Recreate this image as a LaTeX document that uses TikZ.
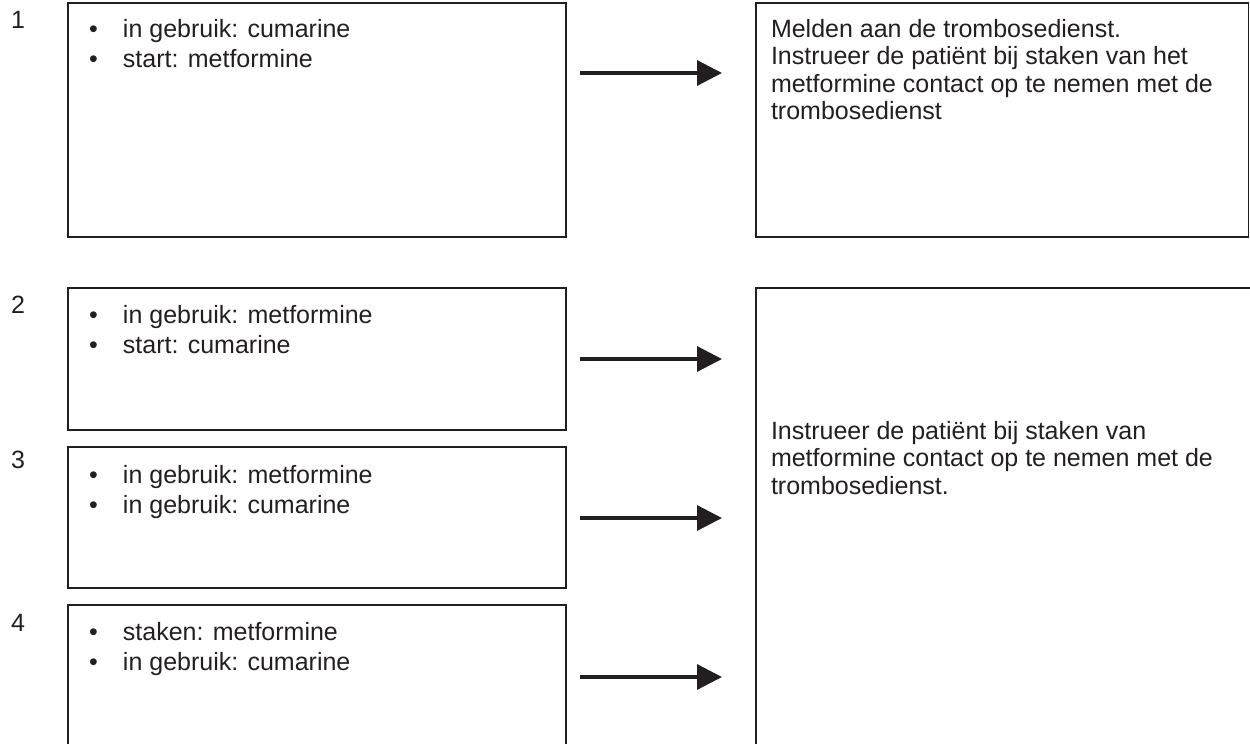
\documentclass[tikz,border=0pt]{standalone}
\usepackage{fontspec}
\setmainfont{Liberation Sans}
\usetikzlibrary{arrows.meta}
\definecolor{ink}{HTML}{231F20}
\tikzset{
  box/.style={draw=ink, line width=1.7pt, inner sep=0pt, outer sep=0pt, anchor=north west},
  txt/.style={anchor=base west, inner sep=0pt, outer sep=0pt, text=ink},
  numlbl/.style={txt, font=\fontsize{25pt}{28pt}\selectfont},
  arr/.style={draw=ink, line width=3.3pt, -{Triangle[length=25pt,width=25pt]}},
}
\newcommand{\bul}{\makebox[34pt][l]{•}}
\newcommand{\bultext}[2]{\parbox[t]{440pt}{\fontsize{25pt}{30.5pt}\selectfont\raggedright\bul #1\\\bul #2}}
\newcommand{\plaintext}[1]{\parbox[t]{475pt}{\fontsize{25pt}{27.5pt}\selectfont\raggedright #1}}
\begin{document}
\begin{tikzpicture}[x=1pt,y=-1pt]
\useasboundingbox (0,0) rectangle (1250,744);
\clip (0,0) rectangle (1250,744);
% left boxes
\node[box, minimum width=498pt, minimum height=234pt] (b1) at (68,3) {};
\node[box, minimum width=498pt, minimum height=142pt] (b2) at (68,288) {};
\node[box, minimum width=498pt, minimum height=141pt] (b3) at (68,447) {};
\node[box, minimum width=498pt, minimum height=170pt] (b4) at (68,605) {};
% right boxes
\node[box, minimum width=492.5pt, minimum height=234pt] (r1) at (756,3) {};
\node[box, minimum width=520pt, minimum height=490pt] (r2) at (756,288) {};
% numbers
\node[numlbl] (n1) at (11,28) {1};
\node[numlbl] (n2) at (11,313) {2};
\node[numlbl] (n3) at (11,468) {3};
\node[numlbl] (n4) at (11,631) {4};
% bullet texts
\node[txt] (t1) at (89,37) {\bultext{in gebruik: cumarine}{start: metformine}};
\node[txt] (t2) at (89,323) {\bultext{in gebruik: metformine}{start: cumarine}};
\node[txt] (t3) at (89,483) {\bultext{in gebruik: metformine}{in gebruik: cumarine}};
\node[txt] (t4) at (89,640) {\bultext{staken: metformine}{in gebruik: cumarine}};
% right texts
\node[txt] (u1) at (771,37) {\plaintext{Melden aan de trombosedienst.\\Instrueer de patiënt bij staken van het\\metformine contact op te nemen met de\\trombosedienst}};
\node[txt] (u2) at (771,439) {\plaintext{Instrueer de patiënt bij staken van\\metformine contact op te nemen met de\\trombosedienst.}};
% arrows
\coordinate (a1s) at ([xshift=14pt,yshift=-70pt]b1.north east);
\coordinate (a2s) at ([xshift=14pt,yshift=-71pt]b2.north east);
\coordinate (a3s) at ([xshift=14pt,yshift=-71pt]b3.north east);
\coordinate (a4s) at ([xshift=14pt,yshift=-72pt]b4.north east);
\coordinate (a1e) at ([xshift=-34pt]r1.west |- a1s);
\coordinate (a2e) at ([xshift=-34pt]r2.west |- a2s);
\coordinate (a3e) at ([xshift=-34pt]r2.west |- a3s);
\coordinate (a4e) at ([xshift=-34pt]r2.west |- a4s);
\draw[arr] (a1s) -- (a1e);
\draw[arr] (a2s) -- (a2e);
\draw[arr] (a3s) -- (a3e);
\draw[arr] (a4s) -- (a4e);
\end{tikzpicture}
\end{document}
